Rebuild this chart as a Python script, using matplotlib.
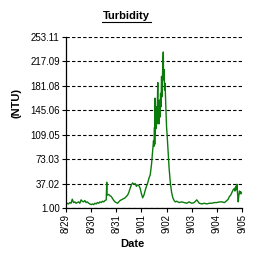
import matplotlib
matplotlib.use("Agg")
import matplotlib.pyplot as plt
from matplotlib.lines import Line2D

plt.rcParams['font.family'] = ['Liberation Sans', 'DejaVu Sans']

# Data: time in days since 8/29 00:00, turbidity in NTU
days = [0.00, 0.05, 0.10, 0.15, 0.20, 0.25, 0.30, 0.35, 0.40, 0.45, 0.50, 0.55,
        0.60, 0.65, 0.70, 0.75, 0.80, 0.85, 0.90, 0.95, 1.00, 1.05, 1.10, 1.15,
        1.20, 1.25, 1.30, 1.35, 1.40, 1.45, 1.50, 1.55, 1.60, 1.62, 1.63, 1.64,
        1.70, 1.75, 1.80, 1.85, 1.90, 1.95, 2.00, 2.05, 2.10, 2.15, 2.20, 2.25,
        2.30, 2.35, 2.40, 2.45, 2.50, 2.55, 2.60, 2.65, 2.70, 2.75, 2.80, 2.85,
        2.90, 2.95, 3.00, 3.05, 3.10, 3.15, 3.20, 3.25, 3.30, 3.35, 3.40, 3.45,
        3.48, 3.50, 3.52, 3.53, 3.54, 3.55, 3.57, 3.58, 3.60, 3.62, 3.65, 3.66,
        3.68, 3.70, 3.72, 3.74, 3.76, 3.78, 3.80, 3.82, 3.85, 3.87, 3.88, 3.90,
        3.92, 3.94, 3.96, 3.98, 4.00, 4.02, 4.06, 4.10, 4.15, 4.20, 4.25, 4.30,
        4.35, 4.40, 4.50, 4.60, 4.70, 4.80, 4.90, 5.00, 5.10, 5.20, 5.30, 5.40,
        5.50, 5.60, 5.70, 5.80, 5.90, 6.00, 6.10, 6.20, 6.30, 6.40, 6.45, 6.50,
        6.55, 6.60, 6.65, 6.70, 6.72, 6.75, 6.78, 6.80, 6.82, 6.85, 6.87, 6.90,
        6.93, 6.95, 7.00]
ntu = [6, 8, 7, 9, 8, 14, 9, 10, 8, 9, 10, 8,
       13, 11, 10, 12, 9, 10, 8, 7, 6, 7, 6, 8,
       7, 9, 8, 10, 9, 11, 10, 12, 13, 39, 21, 20,
       21, 19, 18, 15, 12, 10, 9, 8, 10, 12, 13, 14,
       15, 16, 18, 20, 24, 30, 35, 38, 36, 37, 33, 35,
       34, 30, 22, 16, 20, 27, 33, 38, 45, 50, 65, 88,
       100, 92, 120, 95, 163, 110, 140, 118, 150, 125, 186, 130,
       155, 125, 160, 135, 170, 150, 195, 165, 215, 231, 190, 205,
       175, 185, 160, 140, 120, 110, 86, 60, 38, 24, 16, 12,
       10, 11, 9, 10, 9, 8, 10, 8, 9, 13, 8, 7,
       8, 7, 8, 8, 9, 9, 10, 10, 9, 12, 14, 18,
       20, 24, 28, 30, 26, 33, 28, 36, 24, 10, 18, 26,
       22, 25, 22]

xtick_labels = ['8/29', '8/30', '8/31', '9/01', '9/02', '9/03', '9/04', '9/05']
yticks = [1.00, 37.02, 73.03, 109.05, 145.06, 181.08, 217.09, 253.11]

fig = plt.figure(figsize=(2.72, 2.60), dpi=100)
ax = fig.add_axes([66/272, 1-208/260, 176/272, 171/260])

ax.plot(days, ntu, color='#0a7a0a', lw=1.0)

ax.set_xlim(0, 7)
ax.set_ylim(yticks[0], yticks[-1])
ax.set_xticks(range(len(xtick_labels)))
ax.set_xticklabels(xtick_labels, rotation=90, fontsize=7)
ax.set_yticks(yticks)
ax.set_yticklabels(['%.2f' % v for v in yticks], fontsize=7)
ax.tick_params(length=3, width=0.8, pad=1.5)

ax.grid(axis='y', color='black', linestyle=(0, (3, 2)), lw=0.8)
ax.spines['top'].set_visible(False)
ax.spines['right'].set_visible(False)
ax.spines['left'].set_linewidth(0.9)
ax.spines['bottom'].set_linewidth(0.9)

fig.text(126/272, 1-16/260, 'Turbidity', ha='center', va='center',
         fontsize=8, fontweight='bold')
fig.add_artist(Line2D([102/272, 151/272], [1-22/260, 1-22/260],
                      color='black', lw=0.8, transform=fig.transFigure))
fig.text(17/272, 1-103/260, '(NTU)', ha='center', va='center', rotation=90,
         fontsize=8, fontweight='bold')
fig.text(132/272, 1-244/260, 'Date', ha='center', va='center',
         fontsize=8, fontweight='bold')

fig.savefig('out.png', dpi=100, facecolor='white')
